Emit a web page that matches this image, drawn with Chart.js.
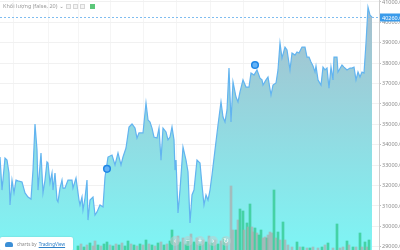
<!DOCTYPE html>
<html>
<head>
<meta charset="utf-8">
<script src="https://cdn.jsdelivr.net/npm/chart.js@4.4.1/dist/chart.umd.min.js"></script>
<style>
  html, body { margin: 0; padding: 0; background: #fff; }
  #wrap { position: relative; width: 400px; height: 250px; overflow: hidden; font-family: "Noto Sans", "DejaVu Sans", sans-serif; }
  #chart { position: absolute; left: 0; top: 0; }
  #legend { position: absolute; left: 3px; top: 2px; font-size: 5.5px; color: #9a9a9a; display: flex; align-items: center; gap: 2px; white-space: nowrap; }
  #legend .box { width: 5px; height: 5px; border: 0.7px solid #d6d6d6; background: #f4f4f4; box-sizing: border-box; }
  #legend .on { width: 5px; height: 5px; background: #5cc77a; margin-left: 3px; }
  #logo { position: absolute; left: 0; top: 237px; width: 73px; height: 14px; background: #fff; border-radius: 2px; box-shadow: 0 0 2px rgba(0,0,0,0.15); font-size: 4.6px; display: flex; align-items: center; }
  #logo .cloud { width: 8px; height: 5px; margin: 0 4px 0 5px; background: #3c8fd6; border-radius: 3px 3px 1px 1px; }
  #logo .by { color: #8a8a8a; margin-right: 2px; }
  #logo .tv { color: #2f80c8; text-decoration: underline; }
  .nav { position: absolute; top: 236px; width: 10px; height: 10px; border-radius: 50%; background: rgba(190,205,205,0.55); color: #fff; font-size: 7px; line-height: 10px; text-align: center; }
</style>
</head>
<body>
<div id="wrap">
  <canvas id="chart" width="400" height="250"></canvas>
  <div id="legend"><span>Khối lượng (false, 20)</span><span>⌄</span><span class="box"></span><span class="box"></span><span class="box"></span><span class="on"></span></div>
  <div id="logo"><span class="cloud"></span><span class="by">charts by</span><span class="tv">TradingView</span></div>
  <div class="nav" style="left:170px">‹</div>
  <div class="nav" style="left:183px">−</div>
  <div class="nav" style="left:195px">+</div>
  <div class="nav" style="left:208px">›</div>
  <div class="nav" style="left:221px">↻</div>
</div>
<script>
// === Datos ===
const times = [0, 2, 5, 7, 9, 10, 12, 14, 16, 18, 22, 25, 28, 31, 33, 35, 37, 38, 41, 43, 45, 47, 48, 50, 52, 53, 55, 57, 58, 60,
  62, 63, 65, 68, 72, 73, 76, 79, 80, 82, 83, 85, 87, 88, 90, 93, 95, 97, 100, 103, 105, 108, 112, 115, 118, 121, 123, 126, 129, 132,
  135, 137, 139, 143, 146, 148, 150, 152, 154, 157, 159, 161, 163, 166, 168, 170, 172, 174, 175, 176, 178, 180, 183, 186, 188, 190, 192, 194, 197, 200,
  202, 204, 206, 208, 210, 212, 215, 218, 221, 223, 225, 227, 229, 231, 233, 236, 238, 240, 243, 246, 249, 251, 254, 257, 260, 262, 263, 266, 268, 271,
  273, 276, 278, 280, 282, 285, 287, 290, 292, 295, 297, 299, 302, 305, 307, 309, 311, 313, 315, 316, 318, 321, 323, 325, 327, 329, 331, 333, 334, 337,
  338, 342, 344, 347, 350, 352, 354, 356, 358, 360, 362, 364, 366, 368, 370, 372];
const prices = [33400, 31780, 33350, 33250, 32620, 31050, 32270, 31640, 32270, 32230, 32180, 31640, 31440, 31340, 32760, 35020, 33750, 31780, 33600, 31640,
  32270, 33160, 33110, 32130, 32620, 31780, 32620, 31290, 31200, 31880, 32270, 31880, 31880, 32270, 32270, 31880, 32370, 31290, 31050, 31440,
  30800, 31390, 32270, 30310, 31290, 31440, 30560, 30710, 31050, 30950, 32420, 33400, 33500, 33010, 33600, 33010, 33400, 33840, 34870, 35020,
  34820, 34330, 34580, 34580, 36050, 35220, 35120, 34820, 34380, 34330, 34820, 33250, 34820, 34630, 34240, 34380, 34870, 34240, 32760, 33250,
  30660, 31780, 33890, 33250, 32670, 30170, 31540, 31780, 33250, 33110, 32030, 31050, 31540, 31290, 31780, 32520, 33750, 34970, 36100, 35360,
  35120, 35710, 37760, 35120, 37080, 36340, 36100, 36590, 37180, 36830, 36830, 37520, 37420, 37670, 37270, 37180, 36930, 37180, 37320, 36440,
  36930, 37030, 37670, 38990, 38250, 38790, 38650, 37670, 38500, 38400, 38550, 38500, 38790, 38790, 38300, 38300, 38060, 37860, 37570, 37860,
  37180, 36930, 37810, 37670, 37760, 36780, 37810, 37180, 38300, 38300, 37570, 37910, 37810, 37670, 37760, 37760, 37810, 37180, 37570, 37320,
  37570, 37520, 38990, 40750, 40360, 40260];

const volTimes = [78, 81, 84, 87, 90, 93, 95, 98, 101, 104, 107, 110, 113, 116, 119, 122, 125, 128, 131, 134, 137, 140, 143, 146, 149, 152, 155, 158, 161, 164,
  167, 170, 172, 175, 178, 180, 183, 186, 188, 191, 194, 197, 200, 203, 206, 209, 212, 215, 218, 221, 224, 227, 231, 233, 236, 238, 240, 243, 244, 247,
  248, 250, 252, 253, 255, 257, 259, 261, 263, 265, 267, 268, 270, 272, 274, 276, 278, 280, 283, 285, 288, 292, 297, 300, 303, 307, 310, 313, 318, 322,
  325, 328, 333, 337, 340, 343, 347, 349, 353, 356, 360, 362, 365, 367, 369];
const volumes = [16, 24, 12, 20, 28, 16, 36, 20, 16, 24, 32, 20, 16, 24, 20, 28, 16, 36, 24, 20, 16, 24, 20, 40, 24, 20, 16, 28, 32, 20,
  24, 36, 80, 40, 56, 32, 48, 24, 40, 64, 32, 48, 24, 40, 32, 56, 28, 40, 24, 36, 48, 32, 256, 80, 80, 120, 164, 156, 80, 108,
  92, 184, 92, 72, 88, 68, 60, 80, 48, 52, 48, 60, 72, 68, 240, 48, 72, 40, 112, 40, 20, 12, 32, 12, 12, 8, 8, 12, 8, 12,
  20, 28, 8, 104, 8, 12, 36, 20, 12, 12, 68, 12, 32, 12, 40];
const volUp = [1, 0, 1, 0, 1, 0, 0, 1, 0, 1, 1, 0, 1, 0, 1, 0, 1, 1, 0, 1, 0, 1, 0, 1, 0, 1, 0, 1, 0, 1,
  0, 1, 1, 0, 0, 1, 0, 1, 1, 0, 1, 0, 1, 0, 1, 0, 1, 0, 1, 0, 1, 0, 0, 0, 1, 0, 1, 1, 0, 1,
  0, 1, 0, 0, 1, 0, 1, 1, 0, 0, 1, 0, 0, 0, 1, 0, 1, 0, 1, 0, 0, 0, 1, 0, 1, 0, 1, 0, 0, 1,
  0, 1, 0, 1, 0, 0, 1, 0, 1, 0, 1, 0, 1, 0, 1];

const markerTimes = [107, 255];
const markerPrices = [32820, 37910];

const priceTicks = [29000, 30000, 31000, 32000, 33000, 34000, 35000, 36000, 37000, 38000, 39000, 40000, 41000];
const timeGrid = [13, 48, 78, 110, 143, 176, 210, 243, 283, 325, 360];
const lastPrice = 40260;

// === Línea de precio actual y etiqueta ===
const lastPricePlugin = {
    id: 'lastPrice',
    afterDatasetsDraw(chart) {
        const { ctx, chartArea, scales } = chart;
        const y = Math.round(scales.y.getPixelForValue(lastPrice)) + 0.5;
        ctx.save();
        ctx.strokeStyle = '#7fbdf0';
        ctx.lineWidth = 1;
        ctx.setLineDash([2, 2]);
        ctx.beginPath();
        ctx.moveTo(chartArea.left, y);
        ctx.lineTo(chartArea.right, y);
        ctx.stroke();
        ctx.setLineDash([]);
        ctx.fillStyle = '#3a9bea';
        ctx.fillRect(chartArea.right + 1, y - 4, 22, 8);
        ctx.fillStyle = '#ffffff';
        ctx.font = '5.5px "Noto Sans", sans-serif';
        ctx.textBaseline = 'middle';
        ctx.fillText(lastPrice.toFixed(2), chartArea.right + 3, y + 0.5);
        ctx.restore();
    }
};

const ctx = document.getElementById('chart').getContext('2d');

new Chart(ctx, {
    data: {
        datasets: [
            {
                type: 'line',
                label: 'Giá',
                data: times.map((t, i) => ({ x: t, y: prices[i] })),
                borderColor: '#62b4f0',
                borderWidth: 1.2,
                pointRadius: 0,
                tension: 0,
                fill: 'start',
                backgroundColor: (c) => {
                    const area = c.chart.chartArea;
                    if (!area) return 'rgba(140,220,230,0.8)';
                    const g = c.chart.ctx.createLinearGradient(0, area.top, 0, area.bottom);
                    g.addColorStop(0, '#a9bccb');
                    g.addColorStop(1, '#7ef5f5');
                    return g;
                },
                yAxisID: 'y',
                order: 3
            },
            {
                type: 'bar',
                label: 'Khối lượng',
                data: volTimes.map((t, i) => ({ x: t, y: volumes[i] })),
                backgroundColor: volUp.map(u => u ? 'rgba(48,200,140,0.75)' : 'rgba(175,170,170,0.7)'),
                barThickness: 2,
                yAxisID: 'yv',
                order: 2
            },
            {
                type: 'scatter',
                label: 'Sự kiện',
                data: markerTimes.map((t, i) => ({ x: t, y: markerPrices[i] })),
                pointRadius: 3.3,
                pointBackgroundColor: '#64b2f6',
                pointBorderColor: '#1f87e6',
                pointBorderWidth: 1.5,
                yAxisID: 'y',
                order: 1
            }
        ]
    },
    options: {
        responsive: false,
        animation: false,
        devicePixelRatio: 1,
        layout: { padding: 0, autoPadding: false },
        plugins: { legend: { display: false }, tooltip: { enabled: false } },
        scales: {
            x: {
                type: 'linear',
                offset: false,
                min: 0,
                max: 379,
                afterBuildTicks: (scale) => { scale.ticks = timeGrid.map(v => ({ value: v })); },
                afterFit: (scale) => {
                    scale.height = 0;
                    scale.paddingLeft = 0; scale.paddingRight = 0;
                    scale.paddingTop = 0; scale.paddingBottom = 0;
                },
                ticks: { display: false },
                grid: { color: '#f5f5f5', drawTicks: false, offset: false },
                border: { display: false }
            },
            y: {
                position: 'right',
                min: 28843,
                max: 41098,
                afterBuildTicks: (scale) => { scale.ticks = priceTicks.map(v => ({ value: v })); },
                afterFit: (scale) => {
                    scale.width = 21;
                    scale.paddingTop = 0; scale.paddingBottom = 0;
                    scale.paddingLeft = 0; scale.paddingRight = 0;
                },
                ticks: {
                    callback: (v) => v.toFixed(2),
                    color: '#8c8c8c',
                    font: { size: 5.5, family: '"Noto Sans", sans-serif' },
                    padding: 1
                },
                grid: { color: '#f1f1f1', tickColor: '#bdbdbd', tickLength: 2 },
                border: { color: '#cfcfcf' }
            },
            yv: {
                display: false,
                min: 0,
                max: 1000
            }
        }
    },
    plugins: [lastPricePlugin]
});
</script>
</body>
</html>
